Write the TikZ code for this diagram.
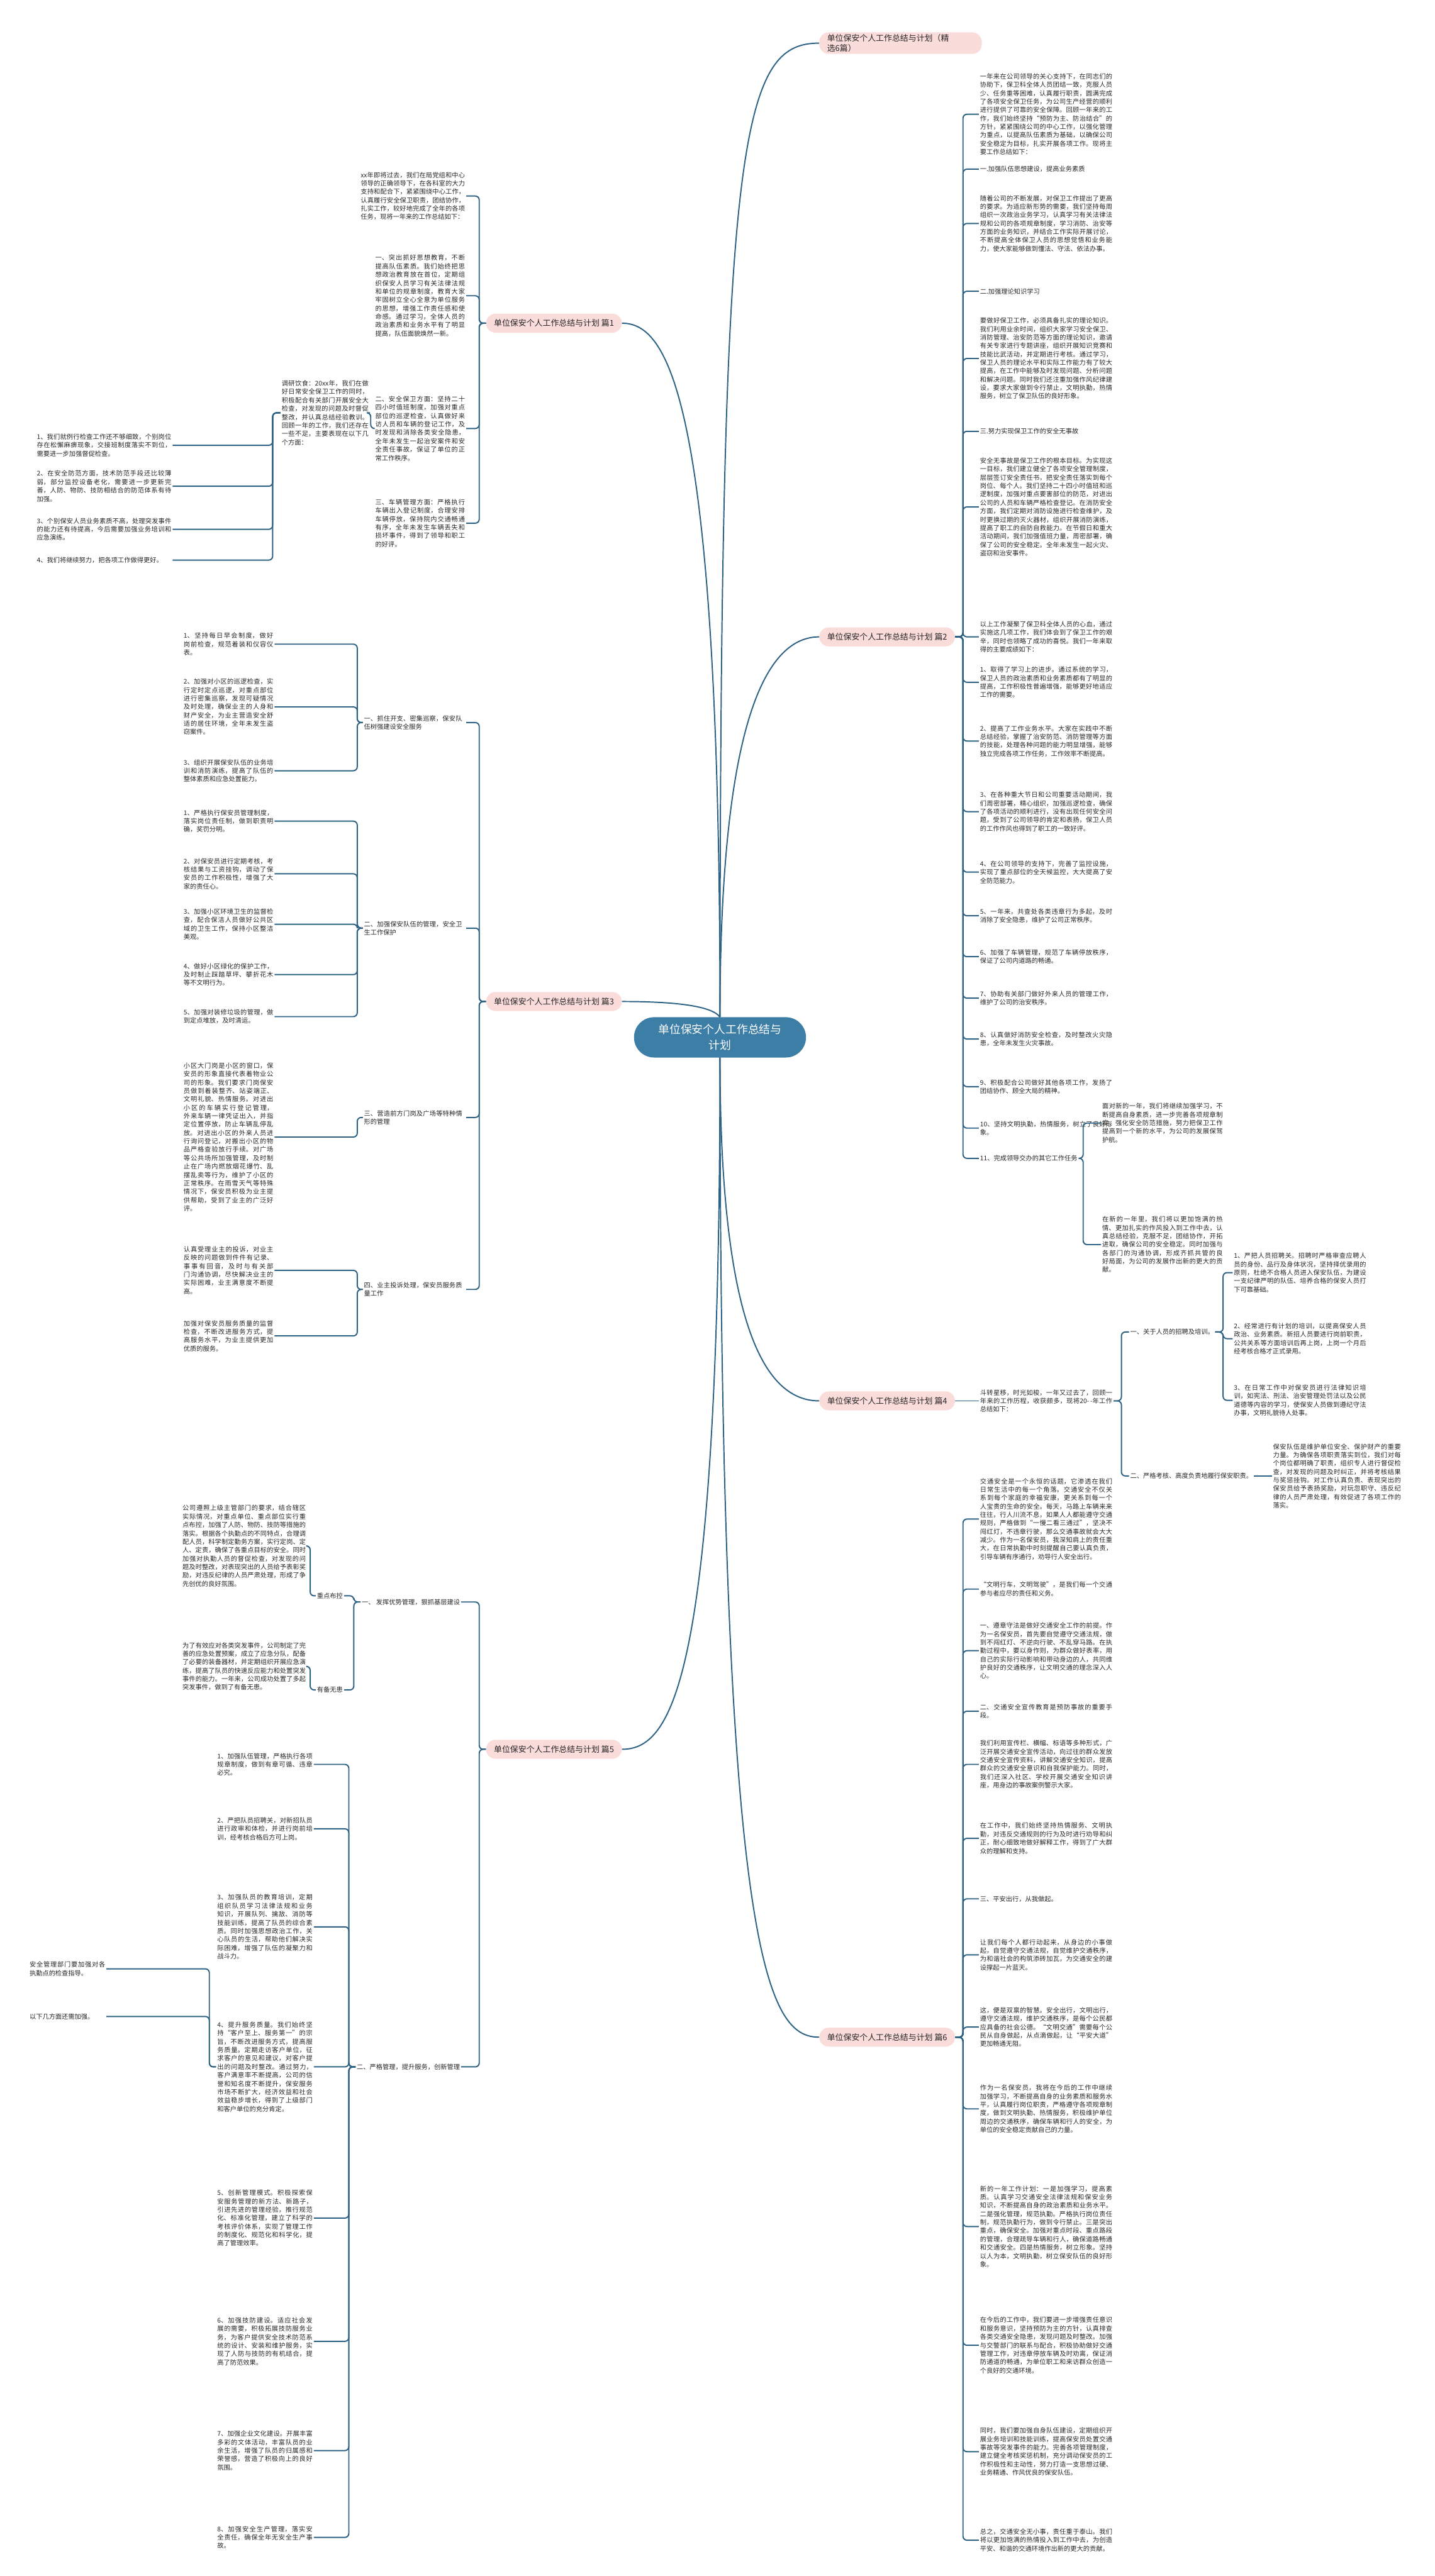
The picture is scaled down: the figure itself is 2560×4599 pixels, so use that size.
\documentclass[tikz,border=0pt]{standalone}
\usepackage{fontspec}
\setmainfont{Noto Sans CJK SC}
\XeTeXlinebreaklocale "zh"
\XeTeXlinebreakskip = 0pt plus 1pt
\usetikzlibrary{positioning}
\definecolor{rootBlue}{HTML}{3D7EA7}
\definecolor{branchPink}{HTML}{FADCDB}
\definecolor{linkBlue}{HTML}{2D6285}
\definecolor{textDark}{HTML}{262626}
\tikzset{
    rootnode/.style={
        fill=rootBlue,
        rectangle,
        rounded corners=36pt,
        minimum width=307pt,
        minimum height=72pt,
        align=center,
        text=white,
        font=\fontsize{20}{28}\selectfont
    },
    branch/.style={
        fill=branchPink,
        rectangle,
        rounded corners=17pt,
        minimum height=34pt,
        inner xsep=14pt,
        text=textDark,
        font=\fontsize{14.5}{18}\selectfont
    },
    topic/.style={
        text=textDark,
        inner sep=2pt,
        align=left,
        font=\fontsize{11.5}{15}\selectfont
    },
    para/.style={
        text=textDark,
        text width=236pt,
        align=justify,
        inner sep=2pt,
        font=\fontsize{11.5}{15}\selectfont
    },
    link/.style={
        draw=linkBlue,
        line width=2.2pt,
        rounded corners=7pt
    },
    curve/.style={
        draw=linkBlue,
        line width=2.2pt
    }
}
\begin{document}
\begin{tikzpicture}[x=1pt,y=-1pt]
    \useasboundingbox (0,0) rectangle (2560,4599);

    % centre and main branches
    \node[rootnode] (root) at (1285,1852) {单位保安个人工作总结与\\计划};
    \node[branch, anchor=west, align=left, text width=262pt] (b0) at (1462,77) {单位保安个人工作总结与计划（精\\选6篇）};
    \node[branch, anchor=east] (b1) at (1110,577) {单位保安个人工作总结与计划 篇1};
    \node[branch, anchor=west] (b2) at (1462,1137) {单位保安个人工作总结与计划 篇2};
    \node[branch, anchor=east] (b3) at (1110,1788) {单位保安个人工作总结与计划 篇3};
    \node[branch, anchor=west] (b4) at (1462,2501) {单位保安个人工作总结与计划 篇4};
    \node[branch, anchor=east] (b5) at (1110,3123) {单位保安个人工作总结与计划 篇5};
    \node[branch, anchor=west] (b6) at (1462,3637) {单位保安个人工作总结与计划 篇6};

    \draw[curve] (root.north) .. controls (1285,250) and (1320,77) .. (b0.west);
    \draw[curve] (root.north) .. controls (1285,700) and (1190,577) .. (b1.east);
    \draw[curve] (root.north) .. controls (1285,1280) and (1370,1137) .. (b2.west);
    \draw[curve] (root.north) .. controls (1270,1795) and (1200,1788) .. (b3.east);
    \draw[curve] (root.south) .. controls (1285,2380) and (1370,2501) .. (b4.west);
    \draw[curve] (root.south) .. controls (1285,3000) and (1200,3123) .. (b5.east);
    \draw[curve] (root.south) .. controls (1285,3500) and (1370,3637) .. (b6.west);

    % 篇1
    \node[para, anchor=east, text width=186pt] (p1a) at (832,350) {xx年即将过去，我们在局党组和中心领导的正确领导下，在各科室的大力支持和配合下，紧紧围绕中心工作，认真履行安全保卫职责，团结协作，扎实工作，较好地完成了全年的各项任务，现将一年来的工作总结如下：};
    \node[para, anchor=east, text width=160pt] (p1b) at (832,528) {一、突出抓好思想教育，不断提高队伍素质。我们始终把思想政治教育放在首位，定期组织保安人员学习有关法律法规和单位的规章制度，教育大家牢固树立全心全意为单位服务的思想，增强工作责任感和使命感。通过学习，全体人员的政治素质和业务水平有了明显提高，队伍面貌焕然一新。};
    \node[para, anchor=east, text width=160pt] (p1c) at (832,765) {二、安全保卫方面：坚持二十四小时值班制度，加强对重点部位的巡逻检查，认真做好来访人员和车辆的登记工作，及时发现和消除各类安全隐患，全年未发生一起治安案件和安全责任事故，保证了单位的正常工作秩序。};
    \node[para, anchor=east, text width=160pt] (p1d) at (832,934) {三、车辆管理方面：严格执行车辆出入登记制度，合理安排车辆停放，保持院内交通畅通有序，全年未发生车辆丢失和损坏事件，得到了领导和职工的好评。};
    \node[para, anchor=east, text width=155pt] (p1e) at (660,737) {调研饮食：20xx年，我们在做好日常安全保卫工作的同时，积极配合有关部门开展安全大检查，对发现的问题及时督促整改，并认真总结经验教训。回顾一年的工作，我们还存在一些不足，主要表现在以下几个方面：};
    \node[para, anchor=east, text width=240pt] (p1f) at (308,795) {1、我们就例行检查工作还不够细致，个别岗位存在松懈麻痹现象，交接班制度落实不到位，需要进一步加强督促检查。};
    \node[para, anchor=east, text width=240pt] (p1g) at (308,868) {2、在安全防范方面，技术防范手段还比较薄弱，部分监控设备老化，需要进一步更新完善，人防、物防、技防相结合的防范体系有待加强。};
    \node[para, anchor=east, text width=240pt] (p1h) at (308,945) {3、个别保安人员业务素质不高，处理突发事件的能力还有待提高，今后需要加强业务培训和应急演练。};
    \node[para, anchor=east, text width=240pt] (p1i) at (308,1000) {4、我们将继续努力，把各项工作做得更好。};
    \foreach \c in {p1a,p1b,p1c,p1d}
        \draw[link] (b1.west) -- ++(-12,0) |- (\c.east);
    \draw[link] (p1c.west) -- ++(-6,0) |- (p1e.east);
    \foreach \c in {p1f,p1g,p1h,p1i}
        \draw[link] (p1e.west) -- ++(-14,0) |- (\c.east);

    % 篇2
    \node[para, anchor=west] (q1) at (1747,204) {一年来在公司领导的关心支持下，在同志们的协助下，保卫科全体人员团结一致，克服人员少、任务重等困难，认真履行职责，圆满完成了各项安全保卫任务，为公司生产经营的顺利进行提供了可靠的安全保障。回顾一年来的工作，我们始终坚持“预防为主、防治结合”的方针，紧紧围绕公司的中心工作，以强化管理为重点，以提高队伍素质为基础，以确保公司安全稳定为目标，扎实开展各项工作。现将主要工作总结如下：};
    \node[topic, anchor=west] (q2) at (1747,302) {一.加强队伍思想建设，提高业务素质};
    \node[para, anchor=west] (q3) at (1747,399) {随着公司的不断发展，对保卫工作提出了更高的要求。为适应新形势的需要，我们坚持每周组织一次政治业务学习，认真学习有关法律法规和公司的各项规章制度，学习消防、治安等方面的业务知识，并结合工作实际开展讨论，不断提高全体保卫人员的思想觉悟和业务能力，使大家能够做到懂法、守法、依法办事。};
    \node[topic, anchor=west] (q4) at (1747,520) {二.加强理论知识学习};
    \node[para, anchor=west] (q5) at (1747,640) {要做好保卫工作，必须具备扎实的理论知识。我们利用业余时间，组织大家学习安全保卫、消防管理、治安防范等方面的理论知识，邀请有关专家进行专题讲座，组织开展知识竞赛和技能比武活动，并定期进行考核。通过学习，保卫人员的理论水平和实际工作能力有了较大提高，在工作中能够及时发现问题、分析问题和解决问题。同时我们还注重加强作风纪律建设，要求大家做到令行禁止，文明执勤，热情服务，树立了保卫队伍的良好形象。};
    \node[topic, anchor=west] (q6) at (1747,770) {三.努力实现保卫工作的安全无事故};
    \node[para, anchor=west] (q7) at (1747,905) {安全无事故是保卫工作的根本目标。为实现这一目标，我们建立健全了各项安全管理制度，层层签订安全责任书，把安全责任落实到每个岗位、每个人。我们坚持二十四小时值班和巡逻制度，加强对重点要害部位的防范，对进出公司的人员和车辆严格检查登记。在消防安全方面，我们定期对消防设施进行检查维护，及时更换过期的灭火器材，组织开展消防演练，提高了职工的自防自救能力。在节假日和重大活动期间，我们加强值班力量，周密部署，确保了公司的安全稳定。全年未发生一起火灾、盗窃和治安事件。};
    \node[para, anchor=west] (q8) at (1747,1137) {以上工作凝聚了保卫科全体人员的心血，通过实施这几项工作，我们体会到了保卫工作的艰辛，同时也领略了成功的喜悦。我们一年来取得的主要成绩如下：};
    \node[para, anchor=west] (q9) at (1747,1218) {1、取得了学习上的进步。通过系统的学习，保卫人员的政治素质和业务素质都有了明显的提高，工作积极性普遍增强，能够更好地适应工作的需要。};
    \node[para, anchor=west] (q10) at (1747,1323) {2、提高了工作业务水平。大家在实践中不断总结经验，掌握了治安防范、消防管理等方面的技能，处理各种问题的能力明显增强，能够独立完成各项工作任务，工作效率不断提高。};
    \node[para, anchor=west] (q11) at (1747,1449) {3、在各种重大节日和公司重要活动期间，我们周密部署，精心组织，加强巡逻检查，确保了各项活动的顺利进行，没有出现任何安全问题，受到了公司领导的肯定和表扬，保卫人员的工作作风也得到了职工的一致好评。};
    \node[para, anchor=west] (q12) at (1747,1557) {4、在公司领导的支持下，完善了监控设施，实现了重点部位的全天候监控，大大提高了安全防范能力。};
    \node[para, anchor=west] (q13) at (1747,1635) {5、一年来，共查处各类违章行为多起，及时消除了安全隐患，维护了公司正常秩序。};
    \node[para, anchor=west] (q14) at (1747,1708) {6、加强了车辆管理，规范了车辆停放秩序，保证了公司内道路的畅通。};
    \node[para, anchor=west] (q15) at (1747,1782) {7、协助有关部门做好外来人员的管理工作，维护了公司的治安秩序。};
    \node[para, anchor=west] (q16) at (1747,1855) {8、认真做好消防安全检查，及时整改火灾隐患，全年未发生火灾事故。};
    \node[para, anchor=west] (q17) at (1747,1940) {9、积极配合公司做好其他各项工作，发扬了团结协作、顾全大局的精神。};
    \node[para, anchor=west] (q18) at (1747,2014) {10、坚持文明执勤，热情服务，树立了良好形象。};
    \node[topic, anchor=west] (q19) at (1747,2068) {11、完成领导交办的其它工作任务};
    \node[para, anchor=west, text width=215pt] (r1) at (1965,2005) {面对新的一年，我们将继续加强学习，不断提高自身素质，进一步完善各项规章制度，强化安全防范措施，努力把保卫工作提高到一个新的水平，为公司的发展保驾护航。};
    \node[para, anchor=west, text width=215pt] (r2) at (1965,2222) {在新的一年里，我们将以更加饱满的热情、更加扎实的作风投入到工作中去，认真总结经验，克服不足，团结协作，开拓进取，确保公司的安全稳定。同时加强与各部门的沟通协调，形成齐抓共管的良好局面，为公司的发展作出新的更大的贡献。};
    \foreach \c in {q1,q2,q3,q4,q5,q6,q7,q8,q9,q10,q11,q12,q13,q14,q15,q16,q17,q18,q19}
        \draw[link] (b2.east) -- ++(14,0) |- (\c.west);
    \foreach \c in {r1,r2}
        \draw[link] (q19.east) -- ++(8,0) |- (\c.west);

    % 篇3
    \node[topic, anchor=east, text width=180pt] (s1) at (832,1290) {一、抓住开支、密集巡察，保安队伍树强建设安全服务};
    \node[topic, anchor=east, text width=180pt] (s2) at (832,1657) {二、加强保安队伍的管理，安全卫生工作保护};
    \node[topic, anchor=east, text width=180pt] (s3) at (832,1995) {三、营造前方门岗及广场等特种情形的管理};
    \node[topic, anchor=east, text width=180pt] (s4) at (832,2302) {四、业主投诉处理，保安员服务质量工作};
    \node[para, anchor=east, text width=160pt] (t11) at (490,1150) {1、坚持每日早会制度，做好岗前检查，规范着装和仪容仪表。};
    \node[para, anchor=east, text width=160pt] (t12) at (490,1262) {2、加强对小区的巡逻检查，实行定时定点巡逻，对重点部位进行密集巡察，发现可疑情况及时处理，确保业主的人身和财产安全，为业主营造安全舒适的居住环境，全年未发生盗窃案件。};
    \node[para, anchor=east, text width=160pt] (t13) at (490,1376) {3、组织开展保安队伍的业务培训和消防演练，提高了队伍的整体素质和应急处置能力。};
    \node[para, anchor=east, text width=160pt] (t21) at (490,1466) {1、严格执行保安员管理制度，落实岗位责任制，做到职责明确，奖罚分明。};
    \node[para, anchor=east, text width=160pt] (t22) at (490,1560) {2、对保安员进行定期考核，考核结果与工资挂钩，调动了保安员的工作积极性，增强了大家的责任心。};
    \node[para, anchor=east, text width=160pt] (t23) at (490,1650) {3、加强小区环境卫生的监督检查，配合保洁人员做好公共区域的卫生工作，保持小区整洁美观。};
    \node[para, anchor=east, text width=160pt] (t24) at (490,1740) {4、做好小区绿化的保护工作，及时制止踩踏草坪、攀折花木等不文明行为。};
    \node[para, anchor=east, text width=160pt] (t25) at (490,1815) {5、加强对装修垃圾的管理，做到定点堆放，及时清运。};
    \node[para, anchor=east, text width=160pt] (t31) at (490,2030) {小区大门岗是小区的窗口，保安员的形象直接代表着物业公司的形象。我们要求门岗保安员做到着装整齐、站姿端正、文明礼貌、热情服务。对进出小区的车辆实行登记管理，外来车辆一律凭证出入，并指定位置停放，防止车辆乱停乱放。对进出小区的外来人员进行询问登记，对搬出小区的物品严格查验放行手续。对广场等公共场所加强管理，及时制止在广场内燃放烟花爆竹、乱摆乱卖等行为，维护了小区的正常秩序。在雨雪天气等特殊情况下，保安员积极为业主提供帮助，受到了业主的广泛好评。};
    \node[para, anchor=east, text width=160pt] (t41) at (490,2268) {认真受理业主的投诉，对业主反映的问题做到件件有记录、事事有回音，及时与有关部门沟通协调，尽快解决业主的实际困难，业主满意度不断提高。};
    \node[para, anchor=east, text width=160pt] (t42) at (490,2385) {加强对保安员服务质量的监督检查，不断改进服务方式，提高服务水平，为业主提供更加优质的服务。};
    \foreach \c in {s1,s2,s3,s4}
        \draw[link] (b3.west) -- ++(-12,0) |- (\c.east);
    \foreach \c in {t11,t12,t13}
        \draw[link] (s1.west) -- ++(-10,0) |- (\c.east);
    \foreach \c in {t21,t22,t23,t24,t25}
        \draw[link] (s2.west) -- ++(-10,0) |- (\c.east);
    \draw[link] (s3.west) -- ++(-10,0) |- (t31.east);
    \foreach \c in {t41,t42}
        \draw[link] (s4.west) -- ++(-10,0) |- (\c.east);

    % 篇4
    \node[para, anchor=west] (u0) at (1747,2501) {斗转星移，时光如梭，一年又过去了，回顾一年来的工作历程，收获颇多，现将20-\,-年工作总结如下：};
    \node[topic, anchor=west] (u1) at (2015,2378) {一、关于人员的招聘及培训。};
    \node[topic, anchor=west] (u2) at (2015,2635) {二、严格考核、高度负责地履行保安职责。};
    \node[para, anchor=west] (v1) at (2200,2272) {1、严把人员招聘关。招聘时严格审查应聘人员的身份、品行及身体状况，坚持择优录用的原则，杜绝不合格人员进入保安队伍，为建设一支纪律严明的队伍、培养合格的保安人员打下可靠基础。};
    \node[para, anchor=west] (v2) at (2200,2390) {2、经常进行有计划的培训，以提高保安人员政治、业务素质。新招人员要进行岗前职责，公共关系等方面培训后再上岗，上岗一个月后经考核合格才正式录用。};
    \node[para, anchor=west] (v3) at (2200,2500) {3、在日常工作中对保安员进行法律知识培训，如宪法、刑法、治安管理处罚法以及公民道德等内容的学习，使保安人员做到遵纪守法办事，文明礼貌待人处事。};
    \node[para, anchor=west, text width=228pt] (v4) at (2270,2635) {保安队伍是维护单位安全、保护财产的重要力量。为确保各项职责落实到位，我们对每个岗位都明确了职责，组织专人进行督促检查，对发现的问题及时纠正，并将考核结果与奖惩挂钩。对工作认真负责、表现突出的保安员给予表扬奖励，对玩忽职守、违反纪律的人员严肃处理，有效促进了各项工作的落实。};
    \draw[link] (b4.east) -- (u0.west);
    \foreach \c in {u1,u2}
        \draw[link] (u0.east) -- ++(14,0) |- (\c.west);
    \foreach \c in {v1,v2,v3}
        \draw[link] (u1.east) -- ++(14,0) |- (\c.west);
    \draw[link] (u2.east) -- (v4.west);

    % 篇5
    \node[topic, anchor=east] (w1) at (823,2860) {一、\ 发挥优势管理，狠抓基层建设};
    \node[topic, anchor=east] (w2) at (823,3690) {二、严格管理，提升服务，创新管理};
    \node[topic, anchor=east] (w11) at (614,2849) {重点布控};
    \node[topic, anchor=east] (w12) at (614,3017) {有备无患};
    \node[para, anchor=east, text width=220pt] (x11) at (548,2760) {公司遵照上级主管部门的要求，结合辖区实际情况，对重点单位、重点部位实行重点布控，加强了人防、物防、技防等措施的落实。根据各个执勤点的不同特点，合理调配人员，科学制定勤务方案，实行定岗、定人、定责，确保了各重点目标的安全。同时加强对执勤人员的督促检查，对发现的问题及时整改，对表现突出的人员给予表彰奖励，对违反纪律的人员严肃处理，形成了争先创优的良好氛围。};
    \node[para, anchor=east, text width=220pt] (x12) at (548,2975) {为了有效应对各类突发事件，公司制定了完善的应急处置预案，成立了应急分队，配备了必要的装备器材，并定期组织开展应急演练，提高了队员的快速反应能力和处置突发事件的能力。一年来，公司成功处置了多起突发事件，做到了有备无患。};
    \node[para, anchor=east, text width=170pt] (y1) at (560,3150) {1、加强队伍管理，严格执行各项规章制度，做到有章可循、违章必究。};
    \node[para, anchor=east, text width=170pt] (y2) at (560,3265) {2、严把队员招聘关，对新招队员进行政审和体检，并进行岗前培训，经考核合格后方可上岗。};
    \node[para, anchor=east, text width=170pt] (y3) at (560,3440) {3、加强队员的教育培训，定期组织队员学习法律法规和业务知识，开展队列、擒敌、消防等技能训练，提高了队员的综合素质。同时加强思想政治工作，关心队员的生活，帮助他们解决实际困难，增强了队伍的凝聚力和战斗力。};
    \node[para, anchor=east, text width=170pt] (y4) at (560,3690) {4、提升服务质量。我们始终坚持“客户至上、服务第一”的宗旨，不断改进服务方式，提高服务质量。定期走访客户单位，征求客户的意见和建议，对客户提出的问题及时整改。通过努力，客户满意率不断提高，公司的信誉和知名度不断提升，保安服务市场不断扩大，经济效益和社会效益稳步增长，得到了上级部门和客户单位的充分肯定。};
    \node[para, anchor=east, text width=170pt] (y5) at (560,3960) {5、创新管理模式。积极探索保安服务管理的新方法、新路子，引进先进的管理经验，推行规范化、标准化管理，建立了科学的考核评价体系，实现了管理工作的制度化、规范化和科学化，提高了管理效率。};
    \node[para, anchor=east, text width=170pt] (y6) at (560,4180) {6、加强技防建设。适应社会发展的需要，积极拓展技防服务业务，为客户提供安全技术防范系统的设计、安装和维护服务，实现了人防与技防的有机结合，提高了防范效果。};
    \node[para, anchor=east, text width=170pt] (y7) at (560,4375) {7、加强企业文化建设。开展丰富多彩的文体活动，丰富队员的业余生活，增强了队员的归属感和荣誉感，营造了积极向上的良好氛围。};
    \node[para, anchor=east, text width=170pt] (y8) at (560,4530) {8、加强安全生产管理，落实安全责任，确保全年无安全生产事故。};
    \node[para, anchor=east, text width=135pt] (y31) at (190,3515) {安全管理部门要加强对各执勤点的检查指导。};
    \node[para, anchor=east, text width=135pt] (y32) at (190,3600) {以下几方面还需加强。};
    \foreach \c in {w1,w2}
        \draw[link] (b5.west) -- ++(-12,0) |- (\c.east);
    \foreach \c in {w11,w12}
        \draw[link] (w1.west) -- ++(-12,0) |- (\c.east);
    \draw[link] (w11.west) -- ++(-10,0) |- (x11.east);
    \draw[link] (w12.west) -- ++(-10,0) |- (x12.east);
    \foreach \c in {y1,y2,y3,y4,y5,y6,y7,y8}
        \draw[link] (w2.west) -- ++(-12,0) |- (\c.east);
    \foreach \c in {y31,y32}
        \draw[link] (y4.west) -- ++(-12,0) |- (\c.east);

    % 篇6
    \node[para, anchor=west] (z1) at (1747,2712) {交通安全是一个永恒的话题，它渗透在我们日常生活中的每一个角落。交通安全不仅关系到每个家庭的幸福安康，更关系到每一个人宝贵的生命的安全。每天，马路上车辆来来往往，行人川流不息，如果人人都能遵守交通规则，严格做到“一慢二看三通过”，坚决不闯红灯，不违章行驶，那么交通事故就会大大减少。作为一名保安员，我深知肩上的责任重大，在日常执勤中时刻提醒自己要认真负责，引导车辆有序通行，劝导行人安全出行。};
    \node[para, anchor=west] (z2) at (1747,2837) {“文明行车，文明驾驶”，是我们每一个交通参与者应尽的责任和义务。};
    \node[para, anchor=west] (z3) at (1747,2947) {一、遵章守法是做好交通安全工作的前提。作为一名保安员，首先要自觉遵守交通法规，做到不闯红灯、不逆向行驶、不乱穿马路。在执勤过程中，要以身作则，为群众做好表率，用自己的实际行动影响和带动身边的人，共同维护良好的交通秩序，让文明交通的理念深入人心。};
    \node[para, anchor=west] (z4) at (1747,3055) {二、交通安全宣传教育是预防事故的重要手段。};
    \node[para, anchor=west] (z5) at (1747,3150) {我们利用宣传栏、横幅、标语等多种形式，广泛开展交通安全宣传活动，向过往的群众发放交通安全宣传资料，讲解交通安全知识，提高群众的交通安全意识和自我保护能力。同时，我们还深入社区、学校开展交通安全知识讲座，用身边的事故案例警示大家。};
    \node[para, anchor=west] (z6) at (1747,3282) {在工作中，我们始终坚持热情服务、文明执勤，对违反交通规则的行为及时进行劝导和纠正，耐心细致地做好解释工作，得到了广大群众的理解和支持。};
    \node[para, anchor=west] (z7) at (1747,3390) {三、平安出行，从我做起。};
    \node[para, anchor=west] (z8) at (1747,3490) {让我们每个人都行动起来，从身边的小事做起，自觉遵守交通法规，自觉维护交通秩序，为和谐社会的构筑添砖加瓦，为交通安全的建设撑起一片蓝天。};
    \node[para, anchor=west] (z9) at (1747,3619) {这，便是双禀的智慧。安全出行，文明出行，遵守交通法规，维护交通秩序，是每个公民都应具备的社会公德。“文明交通”需要每个公民从自身做起，从点滴做起，让“平安大道”更加畅通无阻。};
    \node[para, anchor=west] (z10) at (1747,3765) {作为一名保安员，我将在今后的工作中继续加强学习，不断提高自身的业务素质和服务水平，认真履行岗位职责，严格遵守各项规章制度，做到文明执勤、热情服务，积极维护单位周边的交通秩序，确保车辆和行人的安全，为单位的安全稳定贡献自己的力量。};
    \node[para, anchor=west] (z11) at (1747,3975) {新的一年工作计划：一是加强学习，提高素质。认真学习交通安全法律法规和保安业务知识，不断提高自身的政治素质和业务水平。二是强化管理，规范执勤。严格执行岗位责任制，规范执勤行为，做到令行禁止。三是突出重点，确保安全。加强对重点时段、重点路段的管理，合理疏导车辆和行人，确保道路畅通和交通安全。四是热情服务，树立形象。坚持以人为本，文明执勤，树立保安队伍的良好形象。};
    \node[para, anchor=west] (z12) at (1747,4187) {在今后的工作中，我们要进一步增强责任意识和服务意识，坚持预防为主的方针，认真排查各类交通安全隐患，发现问题及时整改。加强与交警部门的联系与配合，积极协助做好交通管理工作，对违章停放车辆及时劝离，保证消防通道的畅通，为单位职工和来访群众创造一个良好的交通环境。};
    \node[para, anchor=west] (z13) at (1747,4377) {同时，我们要加强自身队伍建设，定期组织开展业务培训和技能训练，提高保安员处置交通事故等突发事件的能力。完善各项管理制度，建立健全考核奖惩机制，充分调动保安员的工作积极性和主动性，努力打造一支思想过硬、业务精通、作风优良的保安队伍。};
    \node[para, anchor=west] (z14) at (1747,4535) {总之，交通安全无小事，责任重于泰山。我们将以更加饱满的热情投入到工作中去，为创造平安、和谐的交通环境作出新的更大的贡献。};
    \foreach \c in {z1,z2,z3,z4,z5,z6,z7,z8,z9,z10,z11,z12,z13,z14}
        \draw[link] (b6.east) -- ++(14,0) |- (\c.west);
\end{tikzpicture}
\end{document}
